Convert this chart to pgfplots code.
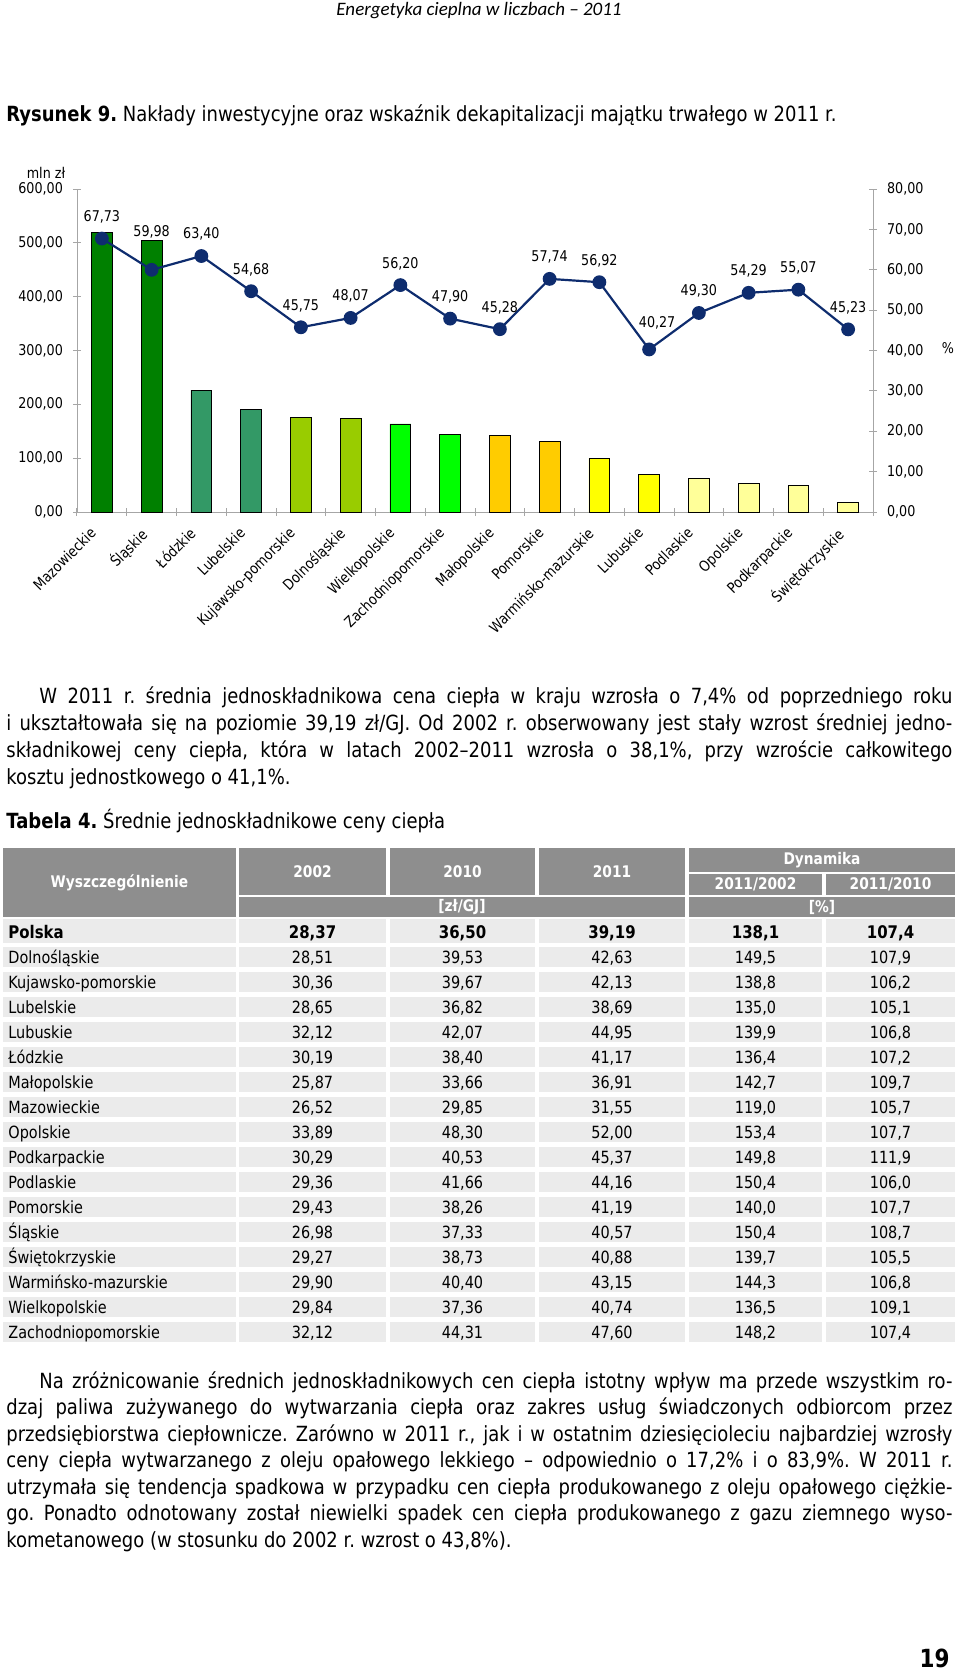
\documentclass[border=0pt]{standalone}
\usepackage{fontspec}
\setmainfont{DejaVu Sans}[FakeStretch=0.86]
\newfontfamily\hdrfont{Carlito}
\usepackage{pgfplots}
\pgfplotsset{compat=1.18}
\definecolor{cA}{HTML}{008000}
\definecolor{cB}{HTML}{339966}
\definecolor{cC}{HTML}{99CC00}
\definecolor{cD}{HTML}{00FF00}
\definecolor{cE}{HTML}{FFCC00}
\definecolor{cF}{HTML}{FFFF00}
\definecolor{cG}{HTML}{FFFF99}
\definecolor{lc}{HTML}{0E2C6E}
\definecolor{hdr}{HTML}{8E8E8E}
\definecolor{rowc}{HTML}{EBEBEB}
\newcommand\fs[1]{\fontsize{#1}{#1}\selectfont}
\newcommand\chartfont{\fontsize{7.4}{8}\selectfont}
\newcommand\trow[7]{%
  \fill[rowc] (3,#1) rectangle (236,#1+20);
  \fill[rowc] (239,#1) rectangle (386,#1+20);
  \fill[rowc] (390,#1) rectangle (535,#1+20);
  \fill[rowc] (539,#1) rectangle (685,#1+20);
  \fill[rowc] (689,#1) rectangle (822,#1+20);
  \fill[rowc] (826,#1) rectangle (955,#1+20);
  \node[anchor=base west,inner sep=0] at (8,#1+16) {\fs{8.4}#2};
  \node[anchor=base,inner sep=0] at (312.5,#1+16) {\fs{8.4}#3};
  \node[anchor=base,inner sep=0] at (462.5,#1+16) {\fs{8.4}#4};
  \node[anchor=base,inner sep=0] at (612,#1+16) {\fs{8.4}#5};
  \node[anchor=base,inner sep=0] at (755.5,#1+16) {\fs{8.4}#6};
  \node[anchor=base,inner sep=0] at (890.5,#1+16) {\fs{8.4}#7};
}
\pgfplotsset{
  common/.style={
    at={(38.5pt,-256pt)}, anchor=south west,
    scale only axis, width=398pt, height=161.5pt,
    xmin=-0.5, xmax=15.5, ymin=0,
    clip=false,
    axis line style={draw=black!35},
    tick style={draw=black!35, line width=0.5pt},
    tick align=center, major tick length=4pt,
    /pgf/number format/fixed, /pgf/number format/fixed zerofill,
    /pgf/number format/precision=2, /pgf/number format/use comma,
    /pgf/number format/assume math mode=true,
  }
}
\frenchspacing
\begin{document}
\begin{tikzpicture}
\useasboundingbox (0,0) rectangle (480pt,-836pt);
% chart: bars (mln zł)
\begin{axis}[
  common, ymax=600,
  axis y line*=left, axis x line*=bottom,
  ytick={0,100,...,600},
  xtick={-0.5,0.5,...,15.5},
  x tick label as interval,
  xticklabels={Mazowieckie,Śląskie,Łódzkie,Lubelskie,Kujawsko-pomorskie,Dolnośląskie,Wielkopolskie,Zachodniopomorskie,Małopolskie,Pomorskie,Warmińsko-mazurskie,Lubuskie,Podlaskie,Opolskie,Podkarpackie,Świętokrzyskie},
  xticklabel style={xshift=-6.5pt, yshift=-3.5pt, rotate=45, anchor=north east, font=\chartfont, inner sep=1pt},
  yticklabel style={font=\chartfont, xshift=-1.5pt},
  bar shift=0pt, bar width=0.42,
]
\addplot[ybar, fill=cA, draw=black, line width=0.4pt] coordinates {(0,519) (1,505)};
\addplot[ybar, fill=cB, draw=black, line width=0.4pt] coordinates {(2,226.6) (3,190.7)};
\addplot[ybar, fill=cC, draw=black, line width=0.4pt] coordinates {(4,175.9) (5,173.9)};
\addplot[ybar, fill=cD, draw=black, line width=0.4pt] coordinates {(6,163.5) (7,144.3)};
\addplot[ybar, fill=cE, draw=black, line width=0.4pt] coordinates {(8,141.8) (9,131.3)};
\addplot[ybar, fill=cF, draw=black, line width=0.4pt] coordinates {(10,99.7) (11,70.6)};
\addplot[ybar, fill=cG, draw=black, line width=0.4pt] coordinates {(12,61.9) (13,53.3) (14,48.9) (15,17.5)};
\end{axis}
% chart: line (%)
\begin{axis}[
  common, ymax=80,
  axis x line=none, axis y line*=right,
  ytick={0,10,...,80},
  yticklabel style={font=\chartfont, xshift=1.5pt},
]
\addplot[color=lc, line width=1.1pt, mark=*, mark size=2.9pt,
  mark options={fill=lc, draw=lc},
  point meta=explicit,
  nodes near coords,
  visualization depends on={\thisrow{dx} \as \dx},
  visualization depends on={\thisrow{dy} \as \dy},
  every node near coord/.append style={font=\chartfont, text=black, anchor=center, inner sep=0pt, xshift=\dx pt, yshift=\dy pt},
] table[x=x, y=y, meta=y] {
x y dx dy
0 67.73 0 10.85
1 59.98 0 18.8
2 63.40 0 10.85
3 54.68 0 10.85
4 45.75 0 10.85
5 48.07 0 10.85
6 56.20 0 10.85
7 47.90 0 10.85
8 45.28 0 10.85
9 57.74 0 10.85
10 56.92 0 10.85
11 40.27 4 13.35
12 49.30 0 10.85
13 54.29 0 10.85
14 55.07 0 10.85
15 45.23 0 10.85
};
\end{axis}
\begin{scope}[x=0.5pt,y=-0.5pt]
% running header
\node[anchor=base,inner sep=0] at (479,15) {\hdrfont\itshape\fs{9.5}Energetyka cieplna w liczbach – 2011};
% figure title
\node[anchor=base west,inner sep=0] at (6,121) {\fs{10.45}\textbf{Rysunek 9.} Nakłady inwestycyjne oraz wskaźnik dekapitalizacji majątku trwałego w 2011 r.};
\node at (46,173) {\chartfont mln zł};
\node at (948,348) {\chartfont \%};
% paragraph 1
\node[anchor=base west,inner sep=0] at (39,703) {\fs{10.45}\makebox[456.5pt][s]{W 2011 r. średnia jednoskładnikowa cena ciepła w kraju wzrosła o 7,4\% od poprzedniego roku}};
\node[anchor=base west,inner sep=0] at (6,730) {\fs{10.45}\makebox[473pt][s]{i ukształtowała się na poziomie 39,19 zł/GJ. Od 2002 r. obserwowany jest stały wzrost średniej jedno-}};
\node[anchor=base west,inner sep=0] at (6,757) {\fs{10.45}\makebox[473pt][s]{składnikowej ceny ciepła, która w latach 2002–2011 wzrosła o 38,1\%, przy wzroście całkowitego}};
\node[anchor=base west,inner sep=0] at (6,784) {\fs{10.45}kosztu jednostkowego o 41,1\%.};
% table title
\node[anchor=base west,inner sep=0] at (6,828) {\fs{10.45}\textbf{Tabela 4.} Średnie jednoskładnikowe ceny ciepła};
% table header
\fill[hdr] (3,848) rectangle (236,917);
\fill[hdr] (239,848) rectangle (386,895);
\fill[hdr] (390,848) rectangle (535,895);
\fill[hdr] (539,848) rectangle (685,895);
\fill[hdr] (689,848) rectangle (955,872);
\fill[hdr] (689,874) rectangle (822,895);
\fill[hdr] (826,874) rectangle (955,895);
\fill[hdr] (239,897) rectangle (685,917);
\fill[hdr] (689,897) rectangle (955,917);
\node[text=white] at (119.5,882.5) {\fs{8}\bfseries Wyszczególnienie};
\node[text=white] at (312.5,871.5) {\fs{8}\bfseries 2002};
\node[text=white] at (462.5,871.5) {\fs{8}\bfseries 2010};
\node[text=white] at (612,871.5) {\fs{8}\bfseries 2011};
\node[text=white] at (822,860) {\fs{8}\bfseries Dynamika};
\node[text=white] at (755.5,884.5) {\fs{8}\bfseries 2011/2002};
\node[text=white] at (890.5,884.5) {\fs{8}\bfseries 2011/2010};
\node[text=white] at (462,907) {\fs{8}\bfseries [zł/GJ]};
\node[text=white] at (822,907) {\fs{8}\bfseries [\%]};
% Polska row
\fill[rowc] (3,919) rectangle (236,943);
\fill[rowc] (239,919) rectangle (386,943);
\fill[rowc] (390,919) rectangle (535,943);
\fill[rowc] (539,919) rectangle (685,943);
\fill[rowc] (689,919) rectangle (822,943);
\fill[rowc] (826,919) rectangle (955,943);
\node[anchor=base west,inner sep=0] at (8,938) {\fs{8.7}\bfseries Polska};
\node[anchor=base,inner sep=0] at (312.5,938) {\fs{8.7}\bfseries 28,37};
\node[anchor=base,inner sep=0] at (462.5,938) {\fs{8.7}\bfseries 36,50};
\node[anchor=base,inner sep=0] at (612,938) {\fs{8.7}\bfseries 39,19};
\node[anchor=base,inner sep=0] at (755.5,938) {\fs{8.7}\bfseries 138,1};
\node[anchor=base,inner sep=0] at (890.5,938) {\fs{8.7}\bfseries 107,4};
% regional rows
\trow{947}{Dolnośląskie}{28,51}{39,53}{42,63}{149,5}{107,9}
\trow{972}{Kujawsko-pomorskie}{30,36}{39,67}{42,13}{138,8}{106,2}
\trow{997}{Lubelskie}{28,65}{36,82}{38,69}{135,0}{105,1}
\trow{1022}{Lubuskie}{32,12}{42,07}{44,95}{139,9}{106,8}
\trow{1047}{Łódzkie}{30,19}{38,40}{41,17}{136,4}{107,2}
\trow{1072}{Małopolskie}{25,87}{33,66}{36,91}{142,7}{109,7}
\trow{1097}{Mazowieckie}{26,52}{29,85}{31,55}{119,0}{105,7}
\trow{1122}{Opolskie}{33,89}{48,30}{52,00}{153,4}{107,7}
\trow{1147}{Podkarpackie}{30,29}{40,53}{45,37}{149,8}{111,9}
\trow{1172}{Podlaskie}{29,36}{41,66}{44,16}{150,4}{106,0}
\trow{1197}{Pomorskie}{29,43}{38,26}{41,19}{140,0}{107,7}
\trow{1222}{Śląskie}{26,98}{37,33}{40,57}{150,4}{108,7}
\trow{1247}{Świętokrzyskie}{29,27}{38,73}{40,88}{139,7}{105,5}
\trow{1272}{Warmińsko-mazurskie}{29,90}{40,40}{43,15}{144,3}{106,8}
\trow{1297}{Wielkopolskie}{29,84}{37,36}{40,74}{136,5}{109,1}
\trow{1322}{Zachodniopomorskie}{32,12}{44,31}{47,60}{148,2}{107,4}
% paragraph 2
\node[anchor=base west,inner sep=0] at (39,1388) {\fs{10.45}\makebox[456.5pt][s]{Na zróżnicowanie średnich jednoskładnikowych cen ciepła istotny wpływ ma przede wszystkim ro-}};
\node[anchor=base west,inner sep=0] at (6,1414.5) {\fs{10.45}\makebox[473pt][s]{dzaj paliwa zużywanego do wytwarzania ciepła oraz zakres usług świadczonych odbiorcom przez}};
\node[anchor=base west,inner sep=0] at (6,1441) {\fs{10.45}\makebox[473pt][s]{przedsiębiorstwa ciepłownicze. Zarówno w 2011 r., jak i w ostatnim dziesięcioleciu najbardziej wzrosły}};
\node[anchor=base west,inner sep=0] at (6,1467.5) {\fs{10.45}\makebox[473pt][s]{ceny ciepła wytwarzanego z oleju opałowego lekkiego – odpowiednio o 17,2\% i o 83,9\%. W 2011 r.}};
\node[anchor=base west,inner sep=0] at (6,1494) {\fs{10.45}\makebox[473pt][s]{utrzymała się tendencja spadkowa w przypadku cen ciepła produkowanego z oleju opałowego ciężkie-}};
\node[anchor=base west,inner sep=0] at (6,1520.5) {\fs{10.45}\makebox[473pt][s]{go. Ponadto odnotowany został niewielki spadek cen ciepła produkowanego z gazu ziemnego wyso-}};
\node[anchor=base west,inner sep=0] at (6,1547) {\fs{10.45}kometanowego (w stosunku do 2002 r. wzrost o 43,8\%).};
% page number
\node[anchor=base east,inner sep=0] at (950,1667) {\fs{12.5}\bfseries 19};
\end{scope}
\end{tikzpicture}
\end{document}
